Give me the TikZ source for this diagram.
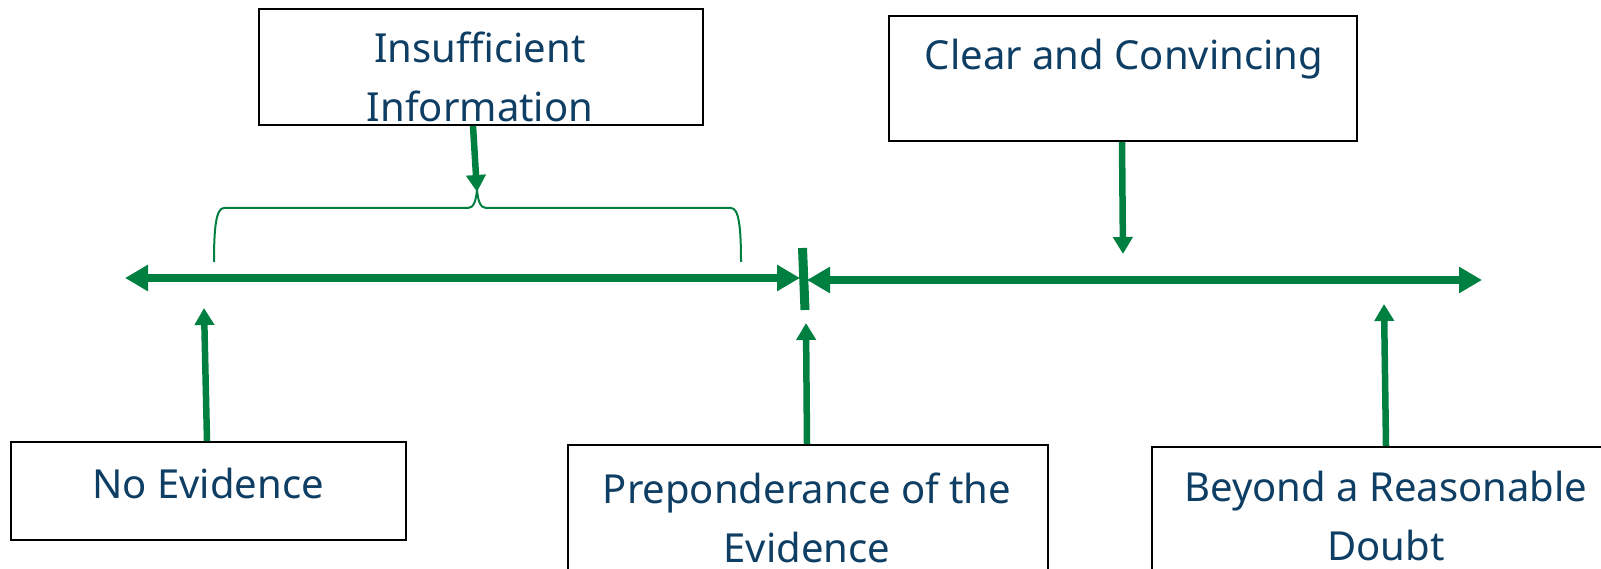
\documentclass[tikz,border=0pt]{standalone}
\usepackage{fontspec}
\setmainfont{Noto Sans}
\usetikzlibrary{arrows.meta}
\definecolor{lgreen}{RGB}{0,128,64}
\definecolor{ltext}{RGB}{14,62,100}
\begin{document}
\begin{tikzpicture}[x=1pt,y=-1pt,
  box/.style={draw=black,line width=1.8pt,rectangle,inner sep=0pt},
  lbl/.style={text=ltext,font=\fontsize{40}{59}\selectfont,align=center,anchor=base,inner sep=0pt},
  axis/.style={draw=lgreen,line width=8.5pt,{Triangle[length=23pt,width=25pt]}-{Triangle[length=23pt,width=25pt]}},
  ptr/.style={draw=lgreen,line width=6.5pt,-{Triangle[length=17pt,width=19pt]}},
  bracepath/.style={draw=lgreen,line width=2pt},
  ]
\useasboundingbox (0,0) rectangle (1601,569);
\clip (0,0) rectangle (1601,569);

% boxes
\node[box,minimum width=444pt,minimum height=116pt] (insuf) at (481,67) {};
\node[box,minimum width=468pt,minimum height=125pt] (clear) at (1123,78.5) {};
\node[box,minimum width=395pt,minimum height=98pt] (noev) at (208.5,491) {};
\node[box,minimum width=480pt,minimum height=160pt] (prep) at (808,525) {};
\node[box,minimum width=473pt,minimum height=158pt] (beyond) at (1388.5,526) {};

% labels (base = baseline of the last line)
\node[lbl] (tinsuf) at (480,122) {Insufficient\\Information};
\node[lbl] (tclear) at (1124,70) {Clear and Convincing};
\node[lbl] (tnoev) at (208,498) {No Evidence};
\node[lbl] (tprep) at (807,562) {Preponderance of the\\Evidence};
\node[lbl] (tbeyond) at (1386,560) {Beyond a Reasonable\\Doubt};

% axis
\coordinate (La) at (125,278);
\coordinate (Lb) at (800,278);
\coordinate (Ra) at (807,280);
\coordinate (Rb) at (1482,280);
\draw[axis] (La) -- (Lb);
\draw[axis] (Ra) -- (Rb);
\coordinate (tk1) at (802.5,248);
\coordinate (tk2) at (805,310);
\draw[draw=lgreen,line width=9pt] (tk1) -- (tk2);

% brace
\coordinate (bpeak) at (477,192);
\draw[bracepath] (214,262) .. controls (214,228) and (216,208) .. (224,208) -- (468,208)
  .. controls (474,208) and (476,200) .. (477,190)
  .. controls (478,200) and (480,208) .. (486,208) -- (731,208)
  .. controls (739,208) and (741,228) .. (741,262);

% pointers
\coordinate (cTip) at (1123,254);
\coordinate (nTip) at (204,308);
\coordinate (pTip) at (806,323);
\coordinate (bTip) at (1384,304);
\draw[ptr] ([xshift=-8pt]insuf.south) -- (bpeak);
\draw[ptr] ([xshift=-1pt]clear.south) -- (cTip);
\draw[ptr] ([xshift=-1.5pt]noev.north) -- (nTip);
\draw[ptr] ([xshift=-1pt]prep.north) -- (pTip);
\draw[ptr] ([xshift=-2.5pt]beyond.north) -- (bTip);
\end{tikzpicture}
\end{document}
